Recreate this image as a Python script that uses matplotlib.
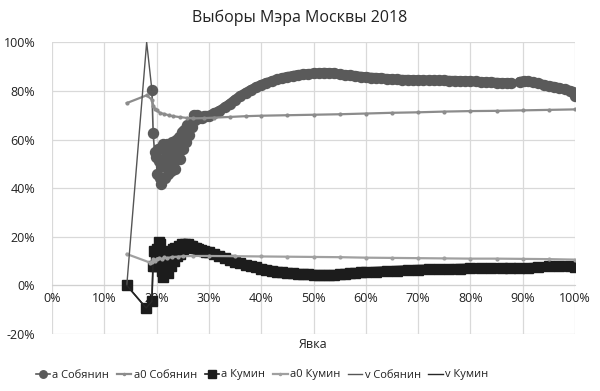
import matplotlib
matplotlib.use("Agg")
import matplotlib.pyplot as plt
from matplotlib.ticker import FuncFormatter

plt.rcParams['font.family'] = ['Open Sans', 'DejaVu Sans']

# ---- data (turnout %, share %) ----
sob_a_x = [19.1, 19.35, 19.6, 19.9, 20.1, 20.3, 20.5, 20.6, 20.8, 21.0, 21.2, 21.4, 21.6, 21.8,
           22.0, 22.2, 22.4, 22.6, 22.8, 23.0, 23.2, 23.4, 23.6, 23.8, 24.0, 24.2, 24.4, 24.6,
           24.8, 25.0, 25.3, 25.6, 25.9, 26.2, 26.5, 26.8, 27.1, 27.4, 27.8, 28.2, 28.6, 29.0,
           29.5, 30, 31, 32, 33, 34, 35, 36, 37, 38, 39, 40, 41, 42, 43, 44, 45, 46, 47, 48,
           49, 50, 51, 52, 53, 54, 55, 56, 57, 58, 59, 60, 61, 62, 63, 64, 65, 66, 67, 68, 69,
           70, 71, 72, 73, 74, 75, 76, 77, 78, 79, 80, 81, 82, 83, 84, 85, 86, 87, 87.8,
           89.4, 90.2, 91, 92, 93, 94, 95, 96, 97, 98, 99, 99.7, 100]
sob_a_y = [80.4, 62.5, 55, 53, 46, 56, 51, 44, 41.8, 49, 58, 52, 44, 55,
           58, 46, 53, 57, 47, 59, 50, 55, 48, 60, 53, 61, 52, 57,
           63, 56, 64, 59, 66, 62, 67, 65, 70, 68, 70, 69, 69, 69.5,
           69.5, 69.8, 70.8, 71.8, 73.2, 74.7, 76.4, 77.9, 79.2, 80.4, 81.5, 82.5, 83.3, 84, 84.7, 85.3, 85.8, 86.2, 86.6, 86.8,
           87, 87.2, 87.3, 87.5, 87.4, 87.3, 86.8, 86.6, 86.4, 86.2, 85.9, 85.7, 85.5, 85.4, 85.2, 85, 84.8, 84.7, 84.6, 84.6, 84.5,
           84.5, 84.4, 84.4, 84.4, 84.3, 84.3, 84.2, 84.2, 84.1, 84.1, 84, 83.9, 83.7, 83.6, 83.5, 83.4, 83.3, 83.3, 83.3,
           83.8, 84, 83.9, 83.6, 83.1, 82.5, 82, 81.7, 81.2, 80.7, 80.1, 79.5, 78.0]

sob_a0_x = [14.3, 18.1, 19.1, 19.4, 19.7, 20, 20.7, 21.5, 22.3, 23.2, 24.5, 25.8, 27, 29, 31, 34,
            37, 40, 45, 50, 55, 60, 65, 70, 75, 80, 85, 90, 95, 100]
sob_a0_y = [75, 78.2, 76.4, 73.7, 72.5, 72, 70.9, 70.5, 70, 69.6, 69.2, 68.9, 68.7, 68.8, 69, 69.3,
            69.6, 69.8, 70, 70.2, 70.4, 70.7, 71, 71.2, 71.5, 71.7, 71.8, 72, 72.2, 72.4]

kum_a_x = [14.3, 18.0, 19.1, 19.3, 19.5, 19.7, 19.9, 20.1, 20.3, 20.5, 20.7, 20.9, 21.1, 21.3, 21.5,
           21.7, 21.9, 22.1, 22.3, 22.5, 22.7, 22.9, 23.1, 23.3, 23.6, 23.9, 24.2, 24.5, 24.8, 25.1,
           25.4, 25.7, 26.0, 26.4, 26.8, 27.2, 27.6, 28, 28.5, 29, 29.5, 30, 31, 32, 33, 34, 35, 36,
           37, 38, 39, 40, 41, 42, 43, 44, 45, 46, 47, 48, 49, 50, 51, 52, 53, 54, 55, 56, 57, 58,
           59, 60, 62, 64, 66, 68, 70, 72, 74, 76, 78, 80, 82, 84, 86, 87.5, 89.2, 91, 93, 95, 97,
           99, 100]
kum_a_y = [0, -9.3, -6.6, 8, 14, 8, 11, 15, 8, 18, 17, 10, 6, 3.5, 9,
           13, 7, 5, 11, 14, 8, 12, 15, 10, 15.5, 12, 16, 13, 17, 15,
           17.2, 16.5, 17, 16, 16.3, 15.5, 15.3, 14.8, 14.5, 14.2, 13.9, 13.6, 13, 12.2, 11.4, 10.6, 9.8, 9.1,
           8.5, 7.9, 7.4, 6.9, 6.5, 6.1, 5.7, 5.4, 5.1, 4.9, 4.7, 4.6, 4.5, 4.4, 4.3, 4.2, 4.2, 4.3, 4.5, 4.7, 4.9, 5.1,
           5.3, 5.5, 5.7, 5.9, 6.1, 6.3, 6.5, 6.6, 6.7, 6.8, 6.9, 7, 7.1, 7.2, 7.2, 7.2, 7.2, 7.2, 7.4, 7.8, 7.9,
           7.8, 7.6]

kum_a0_x = [14.3, 18.7, 19.1, 19.4, 19.7, 20, 20.5, 21, 21.5, 22, 23, 24, 25, 27, 30, 35, 40, 45,
            50, 55, 60, 65, 70, 75, 80, 85, 90, 95, 100]
kum_a0_y = [12.9, 9.4, 9.6, 10.7, 10.2, 11, 11.3, 10.8, 11.5, 11.2, 11.7, 11.8, 12, 12.1, 12.1, 12,
            11.9, 11.8, 11.7, 11.6, 11.4, 11.3, 11.2, 11.1, 11, 11, 10.9, 10.8, 10.6]

sob_v_x = [14.3, 18.1, 19.1]
sob_v_y = [0, 100, 80.4]
kum_v_x = [14.3, 18.0, 19.1, 19.3]
kum_v_y = [0, -9.3, -6.6, 8]

names = ['a Собянин', 'a0 Собянин', 'a Кумин', 'a0 Кумин', 'v Собянин', 'v Кумин']
x_ticks = list(range(0, 101, 10))
y_ticks = list(range(-20, 101, 20))

C_SOB = '#5a5a5a'
C_SOB0 = '#8c8c8c'
C_KUM = '#1c1c1c'
C_KUM0 = '#a0a0a0'

fig = plt.figure(figsize=(6.0, 3.91), dpi=100)
ax = fig.add_axes([52/600, 1-334/391, 523/600, (334-42.3)/391])


def band(xs, ys, x0, gap, color, lw, z):
    # dense-marker band drawn as a thick stroke along the same points (split at the data gap)
    segs = [[(x, y) for x, y in zip(xs, ys) if x0 <= x < gap],
            [(x, y) for x, y in zip(xs, ys) if x > gap]]
    for s in segs:
        ax.plot([p[0] for p in s], [p[1] for p in s], color=color, lw=lw,
                solid_capstyle='round', solid_joinstyle='round', zorder=z)


band(sob_a_x, sob_a_y, 27.0, 88.5, C_SOB, 7.0, 3)
ax.plot(sob_a_x, sob_a_y, color=C_SOB, lw=1.2, marker='o', ms=7.2,
        mec=C_SOB, mfc=C_SOB, label=names[0], zorder=3)
ax.plot(sob_a0_x, sob_a0_y, color=C_SOB0, lw=1.6, marker='o', ms=2,
        mec=C_SOB0, mfc=C_SOB0, label=names[1], zorder=4)
band(kum_a_x, kum_a_y, 24.0, 88.5, C_KUM, 7.0, 5)
ax.plot(kum_a_x, kum_a_y, color=C_KUM, lw=1.2, marker='s', ms=7,
        mec=C_KUM, mfc=C_KUM, label=names[2], zorder=5)
ax.plot(kum_a0_x, kum_a0_y, color=C_KUM0, lw=1.6, marker='o', ms=2,
        mec=C_KUM0, mfc=C_KUM0, label=names[3], zorder=6)
ax.plot(sob_v_x, sob_v_y, color='#555555', lw=1.0, label=names[4], zorder=7)
ax.plot(kum_v_x, kum_v_y, color='#262626', lw=1.0, label=names[5], zorder=8)

ax.set_xlim(0, 100)
ax.set_ylim(-20, 100)
ax.set_xticks(x_ticks)
ax.set_yticks(y_ticks)
ax.xaxis.set_major_formatter(FuncFormatter(lambda v, p: f'{int(round(v))}%'))
ax.yaxis.set_major_formatter(FuncFormatter(lambda v, p: f'{int(round(v))}%'))
ax.grid(True, color='#d9d9d9', lw=0.9, zorder=0)
ax.set_axisbelow(True)
for s in ['top', 'right', 'left']:
    ax.spines[s].set_visible(False)
ax.spines['bottom'].set_position(('data', 0))
ax.spines['bottom'].set_color('#d0d0d0')
ax.tick_params(axis='both', length=0, labelsize=9, colors='#222222')
ax.tick_params(axis='y', pad=12)
ax.tick_params(axis='x', pad=5)

fig.text(0.5, 1-18/391, 'Выборы Мэра Москвы 2018', ha='center', va='center',
         fontsize=11.5, color='#222222')
fig.text(313/600, 1-344/391, 'Явка', ha='center', va='center', fontsize=9, color='#222222')

leg = fig.legend(loc='center', bbox_to_anchor=(262/600, 1-375/391), ncol=6, frameon=False,
                 fontsize=8, handlelength=1.3, handletextpad=0.2, columnspacing=0.7,
                 markerscale=0.75, borderaxespad=0, borderpad=0)
for t in leg.get_texts():
    t.set_color('#222222')

fig.savefig('out.png', dpi=100, facecolor='white')
